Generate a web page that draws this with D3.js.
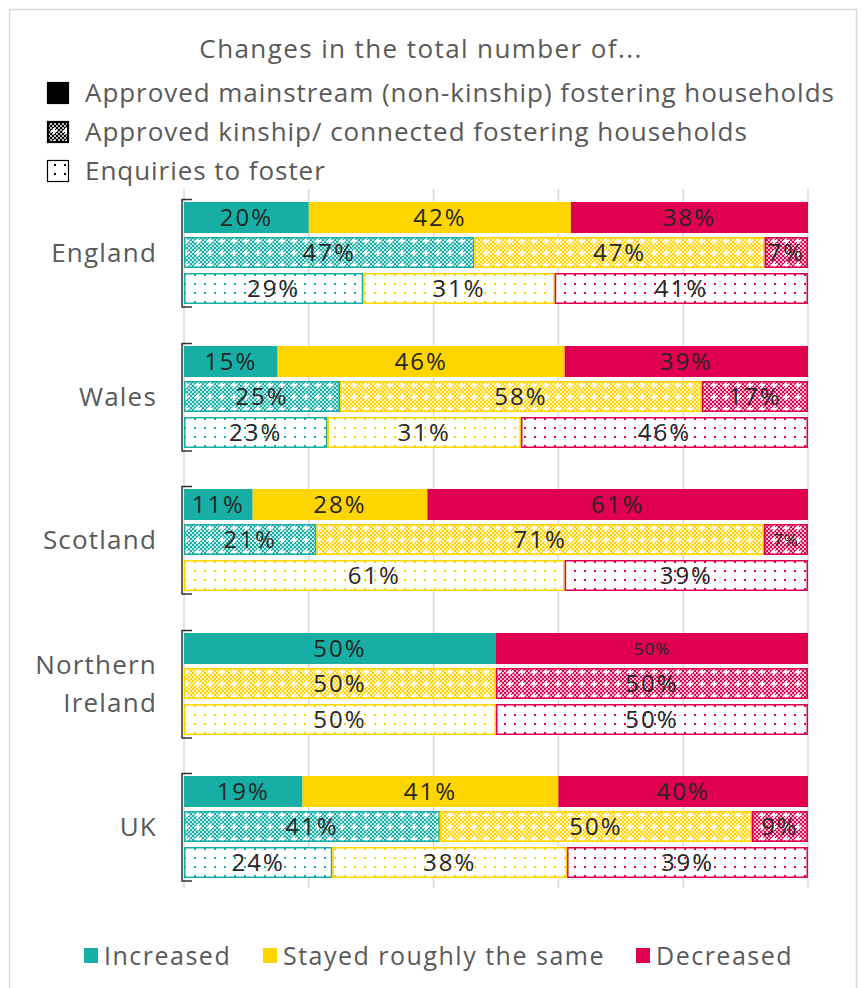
<!DOCTYPE html>
<html>
<head>
<meta charset="utf-8">
<script src="https://cdn.jsdelivr.net/npm/d3@7"></script>
<style>
  html, body { margin: 0; padding: 0; background: #fff; }
  svg { display: block; }
  text { font-family: "Open Sans", sans-serif; }
</style>
</head>
<body>
<svg id="chart" width="862" height="988"></svg>
<script>
// ---- data -------------------------------------------------------------
const countries = ["England", "Wales", "Scotland", "Northern Ireland", "UK"];
const measures = ["mainstream", "kinship", "enquiries"];
const measureLabels = [
  "Approved mainstream (non-kinship) fostering households",
  "Approved kinship/ connected fostering households",
  "Enquiries to foster"
];
const outcomes = ["Increased", "Stayed roughly the same", "Decreased"];

// percentages per country: [increased, same, decreased]
const mainstream = [[20, 42, 38], [15, 46, 39], [11, 28, 61], [50, 0, 50], [19, 41, 40]];
const kinship    = [[47, 47, 7],  [25, 58, 17], [21, 71, 7],  [0, 50, 50], [41, 50, 9]];
const enquiries  = [[29, 31, 41], [23, 31, 46], [0, 61, 39],  [0, 50, 50], [24, 38, 39]];

const xTicks = [0, 0.2, 0.4, 0.6, 0.8, 1];
const title = "Changes in the total number of...";

// labels drawn with a reduced font size
const smallLabels = [["Northern Ireland", "mainstream", "Decreased"], ["Scotland", "kinship", "Decreased"]];

// ---- styling ----------------------------------------------------------
const colors = { "Increased": "#17AFA5", "Stayed roughly the same": "#FFD500", "Decreased": "#E1004F" };
const textGrey = "#595959";
const labelInk = "#262626";

const svg = d3.select("#chart");

// outer frame
svg.append("rect")
  .attr("x", 9.5).attr("y", 9.5).attr("width", 847).attr("height", 1000)
  .attr("fill", "none").attr("stroke", "#d9d9d9").attr("stroke-width", 1.5);

// ---- patterns ---------------------------------------------------------
const defs = svg.append("defs");
const key = s => s.replace(/[^a-z]/gi, "");

// white-only checker overlay (2px checkerboard with small crosses), laid on a solid fill
{
  const p = defs.append("pattern").attr("id", "chk-white")
    .attr("patternUnits", "userSpaceOnUse").attr("width", 12).attr("height", 12);
  const cells = d3.range(6).flatMap(i => d3.range(6)
    .filter(j => (i + j) % 2 === 0)
    .map(j => `M${i * 2},${j * 2}h2v2h-2z`)).join("");
  p.append("path").attr("d", cells).attr("fill", "#fff").attr("fill-opacity", 0.75);
  p.append("rect").attr("x", 5).attr("y", 3).attr("width", 2).attr("height", 6).attr("fill", "#fff");
  p.append("rect").attr("x", 3).attr("y", 5).attr("width", 6).attr("height", 2).attr("fill", "#fff");
}
function dotPattern(id, col) {
  const p = defs.append("pattern").attr("id", id)
    .attr("patternUnits", "userSpaceOnUse").attr("width", 10).attr("height", 9);
  p.append("rect").attr("width", 10).attr("height", 9).attr("fill", "#fff");
  p.append("rect").attr("x", 4).attr("y", 3).attr("width", 2).attr("height", 2).attr("fill", col);
}
outcomes.forEach(o => dotPattern("dot-" + key(o), colors[o]));
dotPattern("dot-black", "#000");

// ---- title & series legend -------------------------------------------
svg.append("text")
  .attr("x", 421).attr("y", 58).attr("text-anchor", "middle")
  .attr("fill", textGrey).attr("font-size", 26).attr("letter-spacing", 1.4)
  .text(title);

const legendRows = d3.scaleBand().domain(measures).range([74, 187]).paddingInner(0.1);
const lg = svg.append("g").selectAll("g").data(measures).join("g")
  .attr("transform", m => `translate(0,${Math.round(legendRows(m))})`);
lg.append("rect")
  .attr("x", 47.5).attr("y", 8.5).attr("width", 21).attr("height", 21)
  .attr("fill", m => m === "enquiries" ? "url(#dot-black)" : "#000")
  .attr("stroke", "#000").attr("stroke-width", 1.2);
lg.filter(m => m === "kinship").append("rect")
  .attr("x", 49).attr("y", 10).attr("width", 18).attr("height", 18)
  .attr("fill", "url(#chk-white)");
lg.append("text")
  .attr("x", 85).attr("y", 19).attr("dy", "0.36em")
  .attr("fill", textGrey).attr("font-size", 26).attr("letter-spacing", 0.95)
  .text((m, i) => measureLabels[i]);

// ---- scales ------------------------------------------------------------
const x = d3.scaleLinear().domain([0, 1]).range([184, 808]);
const y = d3.scaleBand().domain(countries).range([181, 899]).paddingInner(0.25).paddingOuter(0.125);
const yInner = d3.scaleBand().domain(measures).range([0, y.bandwidth()]).paddingInner(0.134).paddingOuter(0.075);

// gridlines
svg.append("g").selectAll("line").data(xTicks).join("line")
  .attr("x1", d => x(d)).attr("x2", d => x(d))
  .attr("y1", 189).attr("y2", 888)
  .attr("stroke", "#d9d9d9").attr("stroke-width", 1.5);

// ---- stacked bars (each row scaled to 100%) ----------------------------
const seriesByMeasure = { mainstream, kinship, enquiries };
const stack = d3.stack().keys([0, 1, 2]).offset(d3.stackOffsetExpand);

const groups = svg.append("g").selectAll("g").data(countries).join("g")
  .attr("transform", c => `translate(0,${Math.round(y(c))})`);

groups.each(function (country, ci) {
  const g = d3.select(this);
  measures.forEach(m => {
    const rowVals = seriesByMeasure[m][ci];
    const layers = stack([rowVals]);
    const segs = layers.map((layer, k) => ({
      outcome: outcomes[k], value: rowVals[k], x0: layer[0][0], x1: layer[0][1]
    })).filter(s => s.value > 0);

    const by = Math.round(yInner(m)), bh = Math.round(yInner.bandwidth());
    const row = g.append("g");
    segs.forEach(s => {
      const col = colors[s.outcome];
      const rx = x(s.x0), rw = x(s.x1) - x(s.x0);
      if (m === "mainstream") {
        row.append("rect").attr("x", rx).attr("y", by).attr("width", rw).attr("height", bh).attr("fill", col);
      } else if (m === "kinship") {
        row.append("rect").attr("x", rx).attr("y", by).attr("width", rw).attr("height", bh).attr("fill", col);
        row.append("rect").attr("x", rx).attr("y", by).attr("width", rw).attr("height", bh)
          .attr("fill", "url(#chk-white)");
        row.append("rect").attr("x", rx + 0.75).attr("y", by + 0.75).attr("width", rw - 1.5).attr("height", bh - 1.5)
          .attr("fill", "none").attr("stroke", col).attr("stroke-width", 1.5);
      } else {
        row.append("rect").attr("x", rx + 0.75).attr("y", by + 0.75).attr("width", rw - 1.5).attr("height", bh - 1.5)
          .attr("fill", `url(#dot-${key(s.outcome)})`).attr("stroke", col).attr("stroke-width", 1.5);
      }
    });
    row.selectAll("text.val").data(segs).join("text")
      .attr("class", "val")
      .attr("x", s => (x(s.x0) + x(s.x1)) / 2)
      .attr("y", by + bh / 2).attr("dy", "0.36em")
      .attr("text-anchor", "middle").attr("fill", labelInk)
      .attr("font-size", s => smallLabels.some(l => l[0] === country && l[1] === m && l[2] === s.outcome) ? 17 : 24)
      .attr("letter-spacing", s => smallLabels.some(l => l[0] === country && l[1] === m && l[2] === s.outcome) ? 1 : 2)
      .text(s => `${s.value}%`);
  });

  // category bracket
  const bw = Math.round(y.bandwidth());
  g.append("path")
    .attr("d", `M192,0.5 H182 V${bw} H192`)
    .attr("fill", "none").attr("stroke", "#333").attr("stroke-width", 1.5);

  // category label
  const lines = country === "Northern Ireland" ? ["Northern", "Ireland"] : [country];
  const t = g.append("text").attr("text-anchor", "end").attr("fill", textGrey)
    .attr("font-size", 26).attr("letter-spacing", 1.2);
  lines.forEach((ln, i) => {
    t.append("tspan").attr("x", 157)
      .attr("y", bw / 2 + (i - (lines.length - 1) / 2) * 38)
      .attr("dy", "0.36em").text(ln);
  });
});

// ---- outcome legend ---------------------------------------------------
const legendX = d3.scaleOrdinal().domain(outcomes).range([84, 263, 636]);
const bl = svg.append("g").selectAll("g").data(outcomes).join("g")
  .attr("transform", o => `translate(${legendX(o)},948)`);
bl.append("rect").attr("width", 14).attr("height", 15).attr("fill", o => colors[o]);
bl.append("text").attr("x", 20).attr("y", 8).attr("dy", "0.36em")
  .attr("fill", textGrey).attr("font-size", 25).attr("letter-spacing", 1.5)
  .text(o => o);
</script>
</body>
</html>
